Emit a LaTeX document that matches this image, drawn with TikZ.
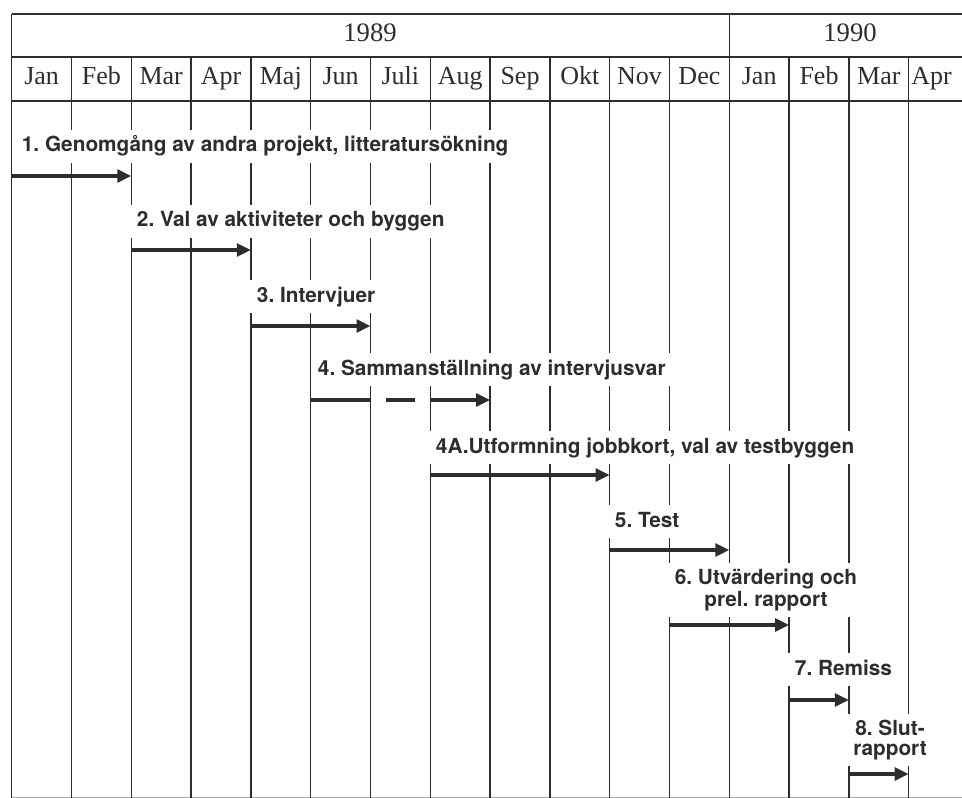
\documentclass[tikz,border=0pt]{standalone}
\usepackage{fontspec}
\setmainfont{Liberation Serif}
\newfontfamily\labelfont{TeX Gyre Heros}
\usetikzlibrary{arrows.meta, calc}
\definecolor{ink}{RGB}{45,45,45}
\tikzstyle{gridline} = [draw=ink, line width=1.1pt]
\tikzstyle{month}    = [font=\fontsize{19.5}{22}\selectfont, text=ink, anchor=base, inner sep=0pt]
\tikzstyle{year}     = [font=\fontsize{20}{24}\selectfont, text=ink, anchor=base, inner sep=0pt]
\tikzstyle{lbl}      = [font=\labelfont\bfseries\frenchspacing\fontsize{15.6}{14.5}\selectfont, text=ink,
                        fill=white, inner xsep=5pt, inner ysep=5pt]
\tikzstyle{activity} = [lbl, text height=11.5pt, text depth=3.5pt, anchor=base west]
\tikzstyle{twoline}  = [lbl, align=center, anchor=center]
\tikzstyle{bar}      = [draw=ink, line width=3.2pt, -{Triangle[length=10.5pt,width=9.5pt]}]
\tikzstyle{barpart}  = [draw=ink, line width=3.2pt]

\begin{document}
\begin{tikzpicture}[x=0.75pt, y=-0.75pt]
  \useasboundingbox (0,0) rectangle (962,798);
  \clip (0,0) rectangle (962,798);

  % --- Header ---
  \draw[gridline] (11.7,14) -- (975,14);
  \draw[gridline] (11.7,57) -- (975,57);
  \draw[gridline] (11.7,101) -- (975,101);
  \draw[gridline] (11.7,14) -- (11.7,798);
  \draw[gridline] (729.3,14) -- (729.3,57);
  \draw[draw=ink!40, line width=0.6pt] (11.7,797) -- (975,797);
  \foreach \k in {1,...,15}
    \draw[gridline] ({11.7+59.8*\k},57) -- ({11.7+59.8*\k},798);

  \node[year] (y89) at (370,42) {1989};
  \node[year] (y90) at (850,42) {1990};
  \foreach \m [count=\i from 0] in {Jan,Feb,Mar,Apr,Maj,Jun,Juli,Aug,Sep,Okt,Nov,Dec,Jan,Feb,Mar}
    \node[month] (m\i) at ({41.6+59.8*\i},85) {\m};
  \node[month, anchor=base west] (m15) at (911,85) {Apr};

  % --- Activities ---
  \node[activity] (l1)  at (15,152)  {1. Genomgång av andra projekt, litteratursökning};
  \node[activity] (l2)  at (130,227) {2. Val av aktiviteter och byggen};
  \node[activity] (l3)  at (250,302) {3. Intervjuer};
  \node[activity] (l4)  at (311,375) {4. Sammanställning av intervjusvar};
  \node[activity] (l4A) at (429,453) {4A.Utformning jobbkort, val av testbyggen};
  \node[activity] (l5)  at (608,527) {5. Test};
  \node[twoline]  (l6)  at (766,590) {6. Utvärdering och\\prel. rapport};
  \node[activity] (l7)  at (788,675) {7. Remiss};
  \node[twoline]  (l8)  at (890,740) {8. Slut-\\rapport};

  \coordinate (a1s) at (11.7,176);  \coordinate (a1e) at (131.3,176);
  \coordinate (a2s) at (131.3,250); \coordinate (a2e) at (250.9,250);
  \coordinate (a3s) at (250.9,326); \coordinate (a3e) at (370.5,326);
  \coordinate (a4s) at (310.7,400); \coordinate (a4e) at (490.1,400);
  \coordinate (d4a) at (386,400);   \coordinate (d4b) at (415,400);
  \coordinate (a5s) at (430.3,475); \coordinate (a5e) at (609.7,475);
  \coordinate (a6s) at (609.7,550); \coordinate (a6e) at (729.3,550);
  \coordinate (a7s) at (669.5,625); \coordinate (a7e) at (789.1,625);
  \coordinate (a8s) at (789.1,700); \coordinate (a8e) at (848.9,700);
  \coordinate (a9s) at (848.9,774); \coordinate (a9e) at (908.7,774);

  % Arrows
  \draw[bar] (a1s) -- (a1e);
  \draw[bar] (a2s) -- (a2e);
  \draw[bar] (a3s) -- (a3e);
  \draw[barpart] (a4s) -- (370.5,400);
  \draw[barpart] (d4a) -- (d4b);
  \draw[bar] (430.3,400) -- (a4e);
  \draw[bar] (a5s) -- (a5e);
  \draw[bar] (a6s) -- (a6e);
  \draw[bar] (a7s) -- (a7e);
  \draw[bar] (a8s) -- (a8e);
  \draw[bar] (a9s) -- (a9e);

\end{tikzpicture}
\end{document}
